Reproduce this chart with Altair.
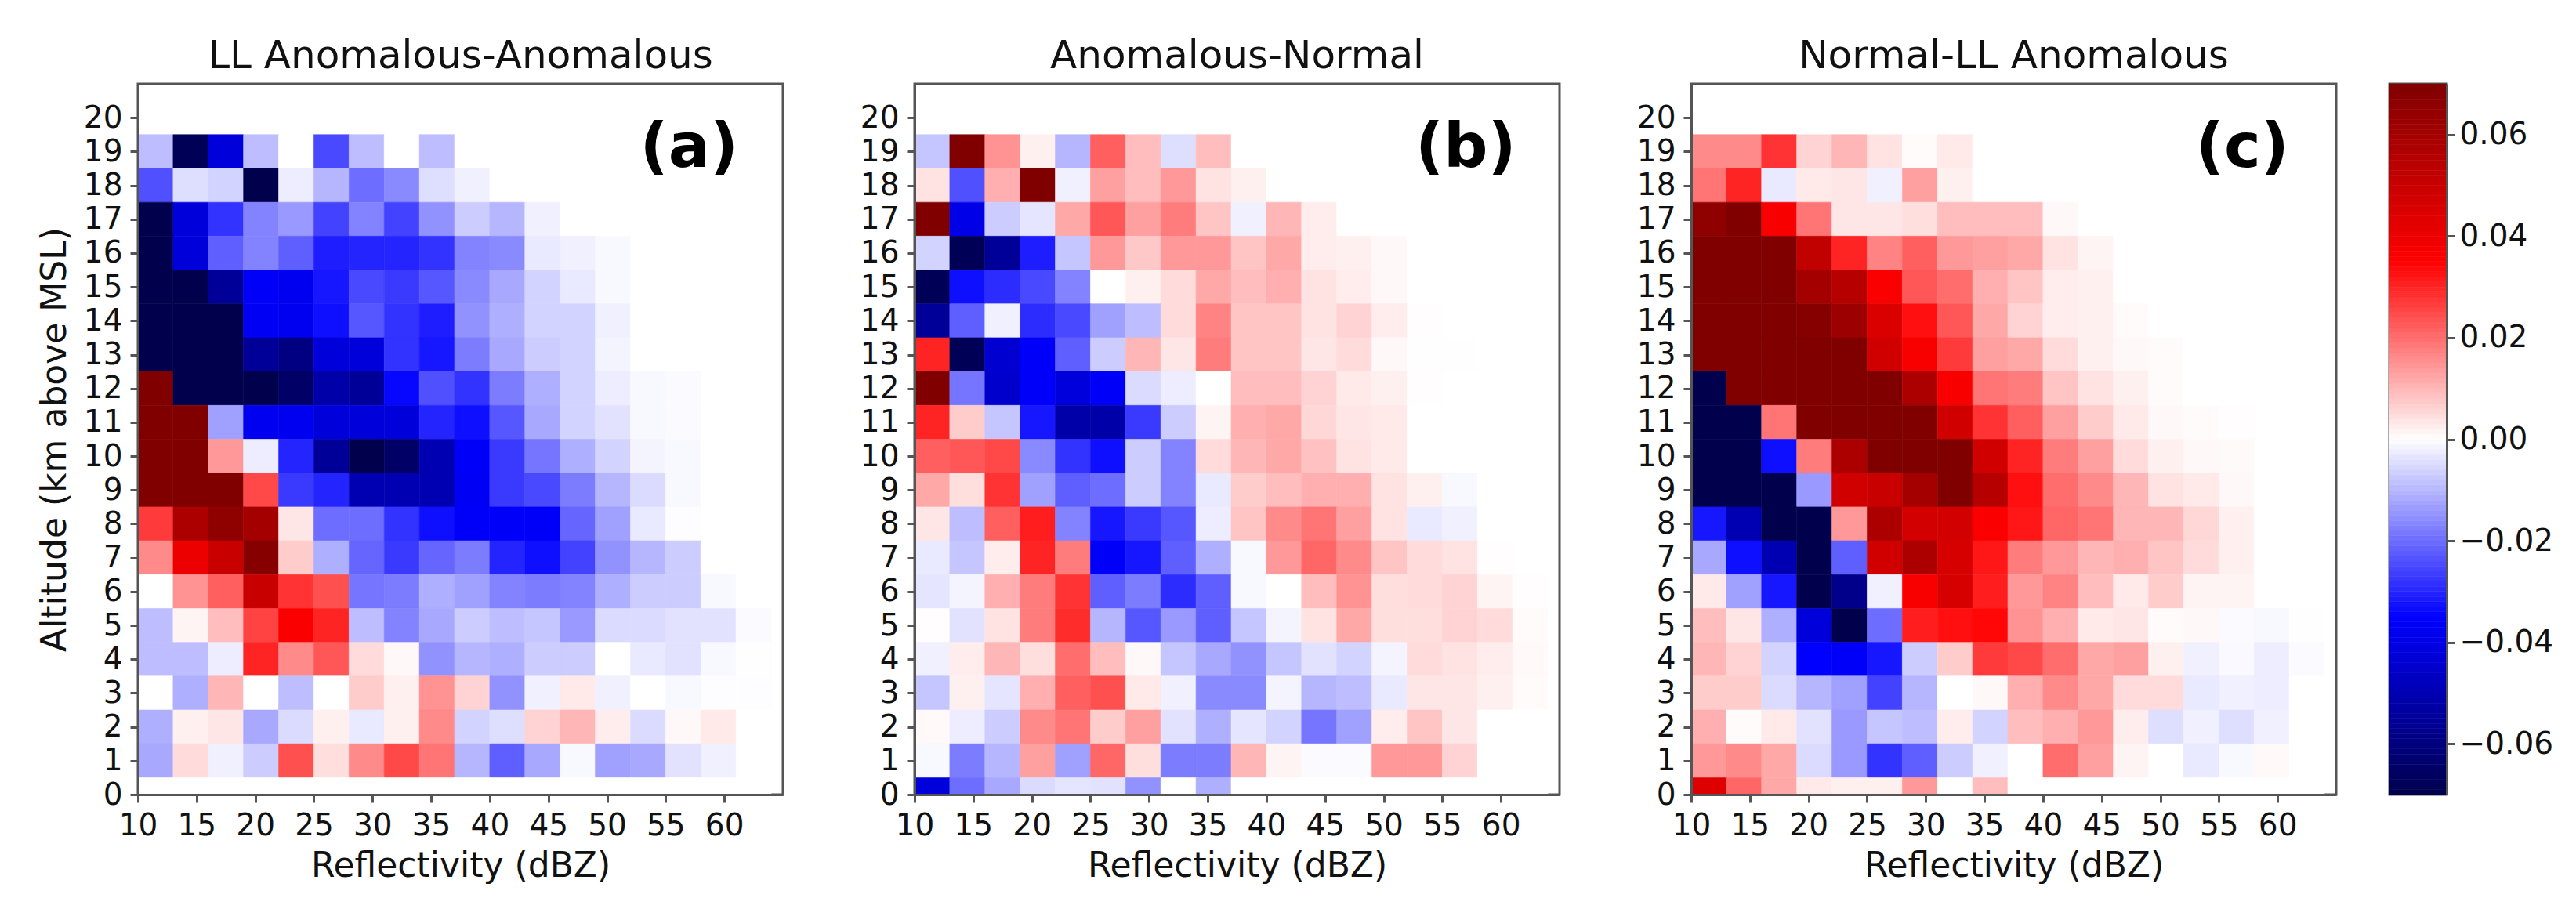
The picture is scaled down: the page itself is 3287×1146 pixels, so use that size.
import altair as alt
import pandas as pd

FONT = "DejaVu Sans"
X_EDGES = [10, 13, 16, 19, 22, 25, 28, 31, 34, 37, 40, 43, 46, 49, 52, 55, 58, 61]
ALTITUDES = [19, 18, 17, 16, 15, 14, 13, 12, 11, 10, 9, 8, 7, 6, 5, 4, 3, 2, 1, 0]
X_TICKS = [10, 15, 20, 25, 30, 35, 40, 45, 50, 55, 60]
Y_TICKS = list(range(0, 21))
CB_TICKS = [-0.06, -0.04, -0.02, 0.0, 0.02, 0.04, 0.06]
TITLES = ["LL Anomalous-Anomalous", "Anomalous-Normal", "Normal-LL Anomalous"]
LETTERS = ["(a)", "(b)", "(c)"]

# values in thousandths, top row (19 km) first
A = [
[-9,-68,-42,-9,0,-25,-9,0,-9,0,0,0,0,0,0,0,0,0],
[-24,-4.5,-6,-70,-2.5,-10,-20,-16,-4.5,-2,0,0,0,0,0,0,0,0],
[-70,-42,-28,-17,-14,-26,-17,-26,-15,-7,-10,-2,0,0,0,0,0,0],
[-70,-42,-22,-17,-22,-31,-30,-30,-28,-17,-16,-3,-2,-1,0,0,0,0],
[-70,-70,-55,-36,-38,-32,-25,-27,-23,-16,-12,-6,-3,-1,0,0,0,0],
[-70,-70,-70,-37,-38,-33,-23,-28,-31,-15,-11,-6,-6,-2,0,0,0,0],
[-70,-70,-70,-55,-60,-42,-42,-28,-32,-18,-12,-7,-6,-1.5,0,0,0,0],
[70,-70,-70,-70,-65,-52,-55,-34,-24,-28,-18,-11,-6,-2.5,-1,-0.5,0,0],
[70,70,-13,-38,-38,-42,-42,-42,-30,-33,-23,-12,-6,-4,-1,-0.5,0,0],
[70,70,14,-2.5,-30,-55,-70,-65,-50,-36,-27,-19,-11,-6,-1.5,-1,0,0],
[70,70,70,25,-27,-30,-50,-50,-50,-37,-27,-25,-18,-10,-5,-1,0,0],
[27,58,66,60,3.5,-20,-20,-28,-33,-36,-36,-36,-21,-13,-3,-0.3,0,0],
[16,40,50,68,7,-11,-21,-27,-21,-18,-30,-33,-26,-15,-10,-7,0,0],
[0,15,22,50,28,24,-19,-18,-11,-13,-17,-18,-17,-11,-7,-7,-1,0],
[-9,1.5,9,26,36,30,-9,-17,-12,-7,-9,-8,-14,-5,-5,-4,-4,-0.5],
[-9,-9,-2.5,30,16,23,5,1,-15,-10,-11,-7,-7,0,-3,-4,-1,-0.2],
[0,-11,10,0,-9,0,7,2,15,6,-15,-2,3,-2,0,-1,-0.3,-0.3],
[-11,2,3.5,-12,-5,2,-3,2,16,-6,-4.5,6,10,2.5,-5,1,3,0],
[-12,5,-2,-7,24,4.5,16,25,19,-10,-22,-12,-1,-13,-12,-4,-2,0],
[0,0,0,0,0,0,0,0,0,0,0,0,0,0,0,0,0,0],
]
B = [
[-8,70,15,2,-10,22,9,-4.5,9,0,0,0,0,0,0,0,0,0],
[4,-24,11,70,-2,13,9,14,4,2,0,0,0,0,0,0,0,0],
[70,-40,-7,-3.5,12,23,13,18,8,-2,10,2.5,0,0,0,0,0,0],
[-6,-68,-55,-31,-8,14,7.5,14,14,8,12,2.5,2,1,0,0,0,0],
[-68,-33,-29,-25,-17,0,2,5,12,9,11,4,2.5,1,0,0,0,0],
[-55,-22,-2,-29,-25,-13,-9,5,17,8,8,4,6,2.5,0.3,0,0,0],
[30,-68,-44,-36,-22,-7,10,3.5,18,8,8,3.5,5,1,0.2,0.2,0,0],
[70,-19,-45,-36,-42,-36,-5,-2.5,0,9,9,6,3,2,0.3,0,0,0],
[30,7,-8,-32,-52,-52,-27,-7,1.5,11,12,5.5,3.5,3,0,0,0,0],
[22,23,25,-16,-28,-33,-7,-17,5,10,12,8.5,4,3,0,0,0,0],
[12,4.5,28,-13,-22,-20,-7,-17,-3,7,9,11,11,4,2,-1,0,0],
[3.5,-9,22,31,-17,-32,-27,-23,-2.5,8,16,19,13,4,-3,-2,0,0],
[-3,-8,2.5,30,18,-36,-32,-22,-11,-1,14,21,16,8,5,4,0.3,0],
[-3.5,-1.5,11,18,28,-22,-18,-29,-22,-1,0,9,15,4.5,5,6,1.5,0.3],
[0.3,-4,4,18,29,-10,-23,-14,-22,-8,-1.5,4,12,4.5,4.5,6,5,0.5],
[-2,2.5,10,4.5,20,9,1,-8,-12,-15,-8,-4,-6,-1.5,5,4,2.5,0.8],
[-8,2,-3.5,11,22,24,3,-2,-16,-16,-1.5,-10,-9,-3,3.5,3.5,2,0.5],
[0.8,-2.5,-7,16,19,7,13,-4,-11,-3.5,-6,-19,-13,2.5,8,3.5,0,0],
[-1,-18,-10,13,-13,21,4.5,-18,-18,10,1.5,-0.5,-0.5,14,14,6,0,0],
[-42,-20,-12,-5,-3.5,-4,-15,0,-11,0,0,0,0,0,0,0,0,0],
]
C = [
[16,16,28,6,10,4,0.5,3,0,0,0,0,0,0,0,0,0,0],
[19,30,-3,3,3.5,-2,13,2,0,0,0,0,0,0,0,0,0,0],
[66,70,37,19,3.5,3.5,4.5,9,9,9,1,0,0,0,0,0,0,0],
[70,70,70,52,30,17,22,14,13,12,4,1.5,0,0,0,0,0,0],
[70,70,70,60,55,36,23,20,11,8,2.5,2,0,0,0,0,0,0],
[70,70,70,68,62,45,33,23,12,6,2.5,2,0.5,0,0,0,0,0],
[70,70,70,70,70,48,37,27,13,12,5,2,1,0.5,0,0,0,0],
[-70,70,70,70,70,70,58,37,19,18,8,4,2,0.5,0,0,0,0],
[-70,-70,19,70,70,70,70,48,28,22,13,7,3,1,0.5,0.3,0,0],
[-70,-70,-33,18,58,70,70,70,48,30,18,13,5,2,1,0.7,0,0],
[-70,-70,-70,-14,48,50,60,70,55,33,20,16,10,4,3,1,0,0],
[-32,-50,-70,-70,14,58,47,47,36,32,21,19,10,10,5.5,2,0,0],
[-12,-33,-50,-70,-22,48,58,46,32,18,14,10,11,8,5,2,0,0],
[3,-13,-32,-70,-58,-2,37,46,31,14,17,9,3,7,1.5,1.5,0,0],
[9,3.5,-11,-42,-70,-20,31,33,34,15,11,3,3.5,0.5,1,-0.5,-1,-0.1],
[10,6,-6,-35,-36,-32,-7,7,27,25,20,12,13,2,-2,-0.8,-2.5,-0.5],
[7,7,-5,-10,-13,-26,-10,0,1,11,16,12,5,5,-3,-2,-2.5,0],
[11,0.5,3,-4,-14,-8,-9,2.5,-6,9,11,14,2.5,-4.5,-2,-4.5,-2,0],
[14,16,12,-5,-14,-28,-22,-7,-2,0,20,13,1.5,0,-3,-1,0.8,0],
[44,21,12,3,2,2,14,0,9,0,0,0,0,0,0,0,0,0],
]
PANELS = [A, B, C]

CMAP_DOMAIN = [-0.07, -0.035, 0.0, 0.035, 0.07]
CMAP_RANGE = ["#00004d", "#0000ff", "#ffffff", "#ff0000", "#800000"]
color_scale = alt.Scale(domain=CMAP_DOMAIN, range=CMAP_RANGE, clamp=True, interpolate="rgb")

FRAME = "#555555"
LW = 3
TICK_FS = 39
LAB_FS = 44
PW, PH = 823, 907


def table(rows):
    recs = []
    for alt_km, row in zip(ALTITUDES, rows):
        for x0, v in zip(X_EDGES, row):
            recs.append(dict(x0=x0, x1=x0 + 3, y0=max(alt_km - 0.5, 0), y1=alt_km + 0.5, v=v / 1000))
    return pd.DataFrame(recs)


def panel(rows, title, letter, first):
    yax = alt.Axis(
        values=Y_TICKS, title="Altitude (km above MSL)" if first else None,
        labelExpr="datum.value", minExtent=70, maxExtent=70 if not first else 135,
        titlePadding=14, zindex=1,
    )
    xs = alt.Scale(domain=[10, 65], nice=False, zero=False)
    ys = alt.Scale(domain=[0, 21], nice=False, zero=False)
    rects = alt.Chart(table(rows)).mark_rect(strokeWidth=0.6).encode(
        x=alt.X("x0:Q", scale=xs, axis=alt.Axis(values=X_TICKS, title="Reflectivity (dBZ)", zindex=1, titlePadding=10)),
        x2="x1:Q",
        y=alt.Y("y0:Q", scale=ys, axis=yax),
        y2="y1:Q",
        color=alt.Color("v:Q", scale=color_scale, legend=None),
        stroke=alt.Color("v:Q", scale=color_scale, legend=None),
    )
    txt = alt.Chart(pd.DataFrame({"x": [57], "y": [19.1], "t": [letter]})).mark_text(
        font=FONT, fontSize=79, fontWeight="bold", color="black", align="center", baseline="middle",
    ).encode(x=alt.X("x:Q", scale=xs), y=alt.Y("y:Q", scale=ys), text="t:N")
    return (rects + txt).properties(width=PW, height=PH, title=alt.TitleParams(title))


CB_STEPS = [i / 1000 for i in range(-70, 70)]
cb = pd.DataFrame({"v0": CB_STEPS, "v1": [s + 0.001 for s in CB_STEPS], "c": [s + 0.0005 for s in CB_STEPS]})
bar = alt.Chart(cb).mark_rect(strokeWidth=0.6).encode(
    y=alt.Y("v0:Q", scale=alt.Scale(domain=[-0.07, 0.07], nice=False, zero=False),
            axis=alt.Axis(orient="right", values=CB_TICKS, format=".2f", title=None, zindex=1, labelPadding=6)),
    y2="v1:Q",
    color=alt.Color("c:Q", scale=color_scale, legend=None),
    stroke=alt.Color("c:Q", scale=color_scale, legend=None),
).properties(width=73, height=PH)

panels = [panel(PANELS[i], TITLES[i], LETTERS[i], i == 0) for i in range(3)]
row = alt.hconcat(*panels, spacing=94)
chart = alt.hconcat(row, bar, spacing=64).properties(
    padding={"left": 38, "top": 37, "right": 0, "bottom": 0},
    background="white",
).configure_view(stroke=FRAME, strokeWidth=LW).configure_axis(
    grid=False, domainColor=FRAME, domainWidth=LW, tickColor=FRAME, tickWidth=LW, tickSize=10,
    labelFont=FONT, labelFontSize=TICK_FS, labelColor="#111111", labelPadding=10, labelOverlap=False, labelFlush=False,
    titleFont=FONT, titleFontSize=LAB_FS, titleFontWeight="normal", titleColor="#111111",
).configure_title(
    font=FONT, fontSize=50, fontWeight="normal", color="#111111", anchor="middle", offset=10,
)

chart.save("out.html", embed_options={"renderer": "svg", "actions": False})
